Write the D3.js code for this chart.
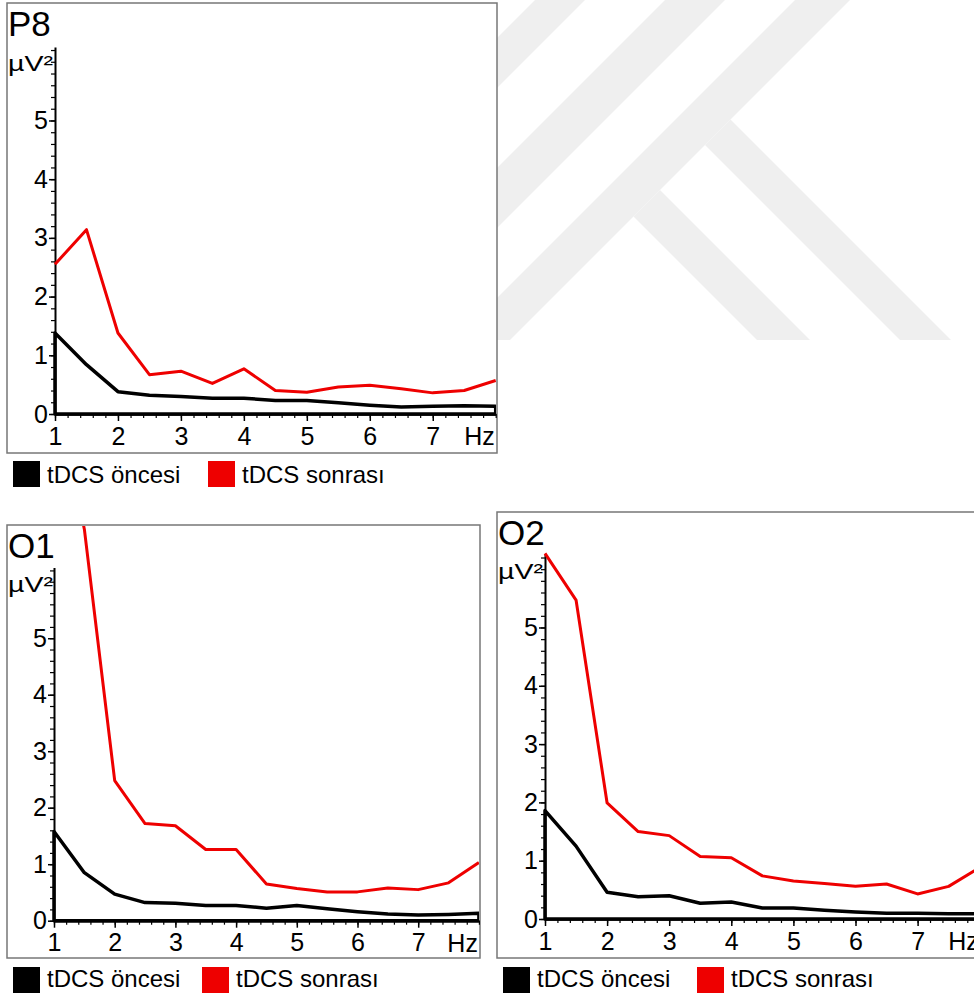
<!DOCTYPE html>
<html>
<head>
<meta charset="utf-8">
<script src="https://cdn.jsdelivr.net/npm/d3@7"></script>
<style>
  body { margin: 0; background: #fff; }
  svg { display: block; font-family: "Liberation Sans", Arial, sans-serif; }
</style>
</head>
<body>
<svg id="chart"></svg>
<script>
// frequencies (Hz), 0.5 Hz steps
var freqs = [1, 1.5, 2, 2.5, 3, 3.5, 4, 4.5, 5, 5.5, 6, 6.5, 7, 7.5, 8];

// power values (uV^2)
var p8Oncesi  = [1.38, 0.84, 0.38, 0.32, 0.30, 0.27, 0.27, 0.23, 0.23, 0.19, 0.15, 0.12, 0.13, 0.14, 0.13];
var p8Sonrasi = [2.55, 3.14, 1.38, 0.67, 0.73, 0.52, 0.77, 0.40, 0.37, 0.46, 0.49, 0.43, 0.36, 0.40, 0.57];
var o1Oncesi  = [1.58, 0.85, 0.47, 0.32, 0.31, 0.27, 0.27, 0.22, 0.27, 0.21, 0.16, 0.12, 0.10, 0.11, 0.13];
var o1Sonrasi = [9.5, 6.93, 2.48, 1.72, 1.68, 1.26, 1.26, 0.65, 0.57, 0.51, 0.51, 0.58, 0.55, 0.67, 1.03];
var o2Oncesi  = [1.86, 1.25, 0.46, 0.38, 0.40, 0.27, 0.29, 0.19, 0.19, 0.15, 0.12, 0.10, 0.10, 0.09, 0.09];
var o2Sonrasi = [6.27, 5.47, 1.99, 1.50, 1.43, 1.07, 1.05, 0.74, 0.65, 0.61, 0.56, 0.60, 0.43, 0.56, 0.88];

var yLabels = [0, 1, 2, 3, 4, 5];
var xLabels = [1, 2, 3, 4, 5, 6, 7];
var legendNames = ["tDCS öncesi", "tDCS sonrası"];
var seriesColors = ["#000000", "#ee0000"];

var width = 974, height = 996;

var svg = d3.select("#chart")
    .attr("width", width)
    .attr("height", height);

// faint watermark behind the panels
var wm = [
  [[535,0],[585,0],[245,340],[195,340]],
  [[665,0],[725,0],[385,340],[325,340]],
  [[795,0],[850,0],[510,340],[455,340]],
  [[633.5,216.5],[660,190],[810,340],[757,340]],
  [[705,145],[730.5,119.5],[951,340],[900,340]]
];
svg.append("g").selectAll("polygon")
    .data(wm)
    .enter()
    .append("polygon")
    .attr("points", function(d) { return d.join(" "); })
    .attr("fill", "#efefef");

// panel layout (box + plot area), pixels
var panels = [
  { name: "P8", low: p8Oncesi, high: p8Sonrasi,
    box: [7, 3, 490, 450], x0: 55, x1: 495.7, yBase: 414, yTop: 47.1,
    legY: 461, legText: 483, legRed: 201 },
  { name: "O1", low: o1Oncesi, high: o1Sonrasi,
    box: [7, 525, 473, 433], x0: 54, x1: 478.9, yBase: 920.7, yTop: 567.6,
    legY: 967, legText: 987, legRed: 195 },
  { name: "O2", low: o2Oncesi, high: o2Sonrasi,
    box: [497, 512, 490, 446], x0: 545, x1: 979.7, yBase: 919, yTop: 554.6,
    legY: 967, legText: 987, legRed: 200 }
];

function range(a, b, step) {
  var out = [];
  for (var v = a; v <= b + 1e-9; v += step) out.push(Math.round(v * 10) / 10);
  return out;
}

panels.forEach(function(p, i) {
  var g = svg.append("g");
  var bx = p.box[0], by = p.box[1], bw = p.box[2], bh = p.box[3];

  g.append("rect")
      .attr("x", bx).attr("y", by)
      .attr("width", bw).attr("height", bh)
      .attr("fill", "#fff")
      .attr("stroke", "#777")
      .attr("stroke-width", 1.5);

  g.append("clipPath")
      .attr("id", "clip" + i)
    .append("rect")
      .attr("x", bx + 1).attr("y", by + 1)
      .attr("width", bw - 2).attr("height", bh - 2);

  var xScale = d3.scaleLinear().domain([1, 8]).range([p.x0, p.x1]);
  var yScale = d3.scaleLinear().domain([0, 6.25]).range([p.yBase, p.yTop]);

  // y axis: minor ticks every 0.2, labels on integers
  g.append("g")
      .attr("transform", "translate(" + p.x0 + ",0)")
      .call(d3.axisLeft(yScale).tickValues(range(0, 6.2, 0.2)).tickSize(4).tickSizeOuter(0).tickFormat(""))
      .call(function(a) { a.select(".domain").attr("stroke-width", 2); a.selectAll(".tick line").attr("stroke-width", 1.2); });
  g.append("g")
      .attr("transform", "translate(" + p.x0 + ",0)")
      .call(d3.axisLeft(yScale).tickValues(yLabels).tickFormat(d3.format("d")).tickSize(6).tickPadding(1).tickSizeOuter(0))
      .call(function(a) {
        a.select(".domain").remove();
        a.selectAll(".tick line").attr("stroke-width", 1.5);
        a.selectAll("text").attr("font-size", 25).attr("font-family", null).attr("fill", "#000");
      });

  // x axis
  g.append("g")
      .attr("transform", "translate(0," + p.yBase + ")")
      .call(d3.axisBottom(xScale).tickValues(range(1, 8, 0.2)).tickSize(4).tickSizeOuter(0).tickFormat(""))
      .call(function(a) { a.select(".domain").attr("stroke-width", 2.5); a.selectAll(".tick line").attr("stroke-width", 1.2); });
  g.append("g")
      .attr("transform", "translate(0," + p.yBase + ")")
      .call(d3.axisBottom(xScale).tickValues(xLabels).tickFormat(d3.format("d")).tickSize(7).tickPadding(6).tickSizeOuter(0))
      .call(function(a) {
        a.select(".domain").remove();
        a.selectAll(".tick line").attr("stroke-width", 1.5);
        a.selectAll("text").attr("font-size", 25).attr("font-family", null).attr("fill", "#000");
      });

  g.append("text")
      .attr("x", xScale(8) - 1)
      .attr("y", p.yBase + 31)
      .attr("text-anchor", "end")
      .attr("font-size", 25)
      .text("Hz");

  // labels
  g.append("text")
      .attr("x", bx + 1)
      .attr("y", by + 33)
      .attr("font-size", 35)
      .text(p.name);
  g.append("text")
      .attr("x", bx + 1)
      .attr("y", p.yTop + 24)
      .attr("font-size", 22)
      .attr("textLength", 45)
      .attr("lengthAdjust", "spacingAndGlyphs")
      .text("µV²");

  var plot = g.append("g").attr("clip-path", "url(#clip" + i + ")");

  // before: drawn as outline down to the axis
  var area = d3.area()
      .x(function(d, j) { return xScale(freqs[j]); })
      .y0(yScale(0))
      .y1(function(d) { return yScale(d); });
  plot.append("path")
      .datum(p.low)
      .attr("d", area)
      .attr("fill", "none")
      .attr("stroke", seriesColors[0])
      .attr("stroke-width", 3.5)
      .attr("stroke-linejoin", "round");

  var line = d3.line()
      .x(function(d, j) { return xScale(freqs[j]); })
      .y(function(d) { return yScale(d); });
  plot.append("path")
      .datum(p.high)
      .attr("d", line)
      .attr("fill", "none")
      .attr("stroke", seriesColors[1])
      .attr("stroke-width", 3)
      .attr("stroke-linejoin", "round");

  // legend
  var legX = [bx + 6, bx + p.legRed];
  legendNames.forEach(function(name, k) {
    g.append("rect")
        .attr("x", legX[k]).attr("y", p.legY)
        .attr("width", 27).attr("height", 26)
        .attr("fill", seriesColors[k]);
    g.append("text")
        .attr("x", legX[k] + 34)
        .attr("y", p.legText)
        .attr("font-size", 24)
        .text(name);
  });
});
</script>
</body>
</html>
